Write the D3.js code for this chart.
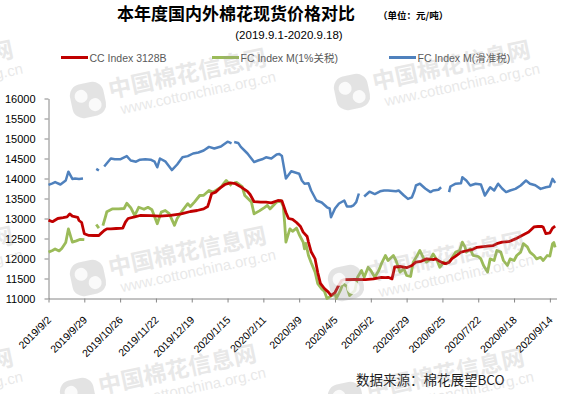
<!DOCTYPE html>
<html>
<head>
<meta charset="utf-8">
<script src="https://cdnjs.cloudflare.com/ajax/libs/d3/7.8.5/d3.min.js"></script>
<style>
  body { margin: 0; background: #fff; }
  .axis text { font-family: "Liberation Sans", Arial, sans-serif; fill: #000; }
  .axis path, .axis line { stroke: #868686; }
</style>
</head>
<body>
<div id="chart"></div>
<script>
// tick labels
var tickLabels = ["2019/9/2","2019/9/29","2019/10/26","2019/11/22","2019/12/19","2020/1/15","2020/2/11",
  "2020/3/9","2020/4/5","2020/5/2","2020/5/29","2020/6/25","2020/7/22","2020/8/18","2020/9/14"];
var yTicks = [11000,11500,12000,12500,13000,13500,14000,14500,15000,15500,16000];

var seriesNames = ["CC Index 3128B", "FC Index M(1%关税)", "FC Index M(滑准税)"];

// CC Index 3128B
var ccIndex = [["2019/9/2",12960],["2019/9/5",12920],["2019/9/9",13000],["2019/9/13",13020],["2019/9/16",13040],
  ["2019/9/18",13115],["2019/9/20",13060],["2019/9/24",13030],["2019/9/25",12950],["2019/9/27",12900],
  ["2019/9/29",12620],["2019/10/2",12580],["2019/10/6",12575],["2019/10/10",12575],["2019/10/11",12610],
  ["2019/10/14",12700],["2019/10/16",12740],["2019/10/19",12740],["2019/10/23",12750],["2019/10/28",12760],
  ["2019/10/30",12910],["2019/11/1",13000],["2019/11/6",13040],["2019/11/10",13075],["2019/11/18",13070],
  ["2019/11/25",13060],["2019/12/3",13080],["2019/12/11",13115],["2019/12/18",13175],["2019/12/23",13200],
  ["2019/12/28",13240],["2019/12/31",13300],["2020/1/1",13400],["2020/1/3",13620],["2020/1/6",13660],
  ["2020/1/10",13780],["2020/1/13",13850],["2020/1/17",13890],["2020/1/21",13870],["2020/1/25",13790],
  ["2020/1/30",13680],["2020/2/1",13600],["2020/2/4",13420],["2020/2/9",13410],["2020/2/13",13410],
  ["2020/2/17",13390],["2020/2/22",13450],["2020/2/25",13440],["2020/2/28",13150],["2020/3/1",13000],
  ["2020/3/4",12980],["2020/3/7",12900],["2020/3/10",12800],["2020/3/12",12660],["2020/3/15",12550],
  ["2020/3/16",12410],["2020/3/18",12170],["2020/3/21",11990],["2020/3/23",11650],["2020/3/25",11380],
  ["2020/3/28",11250],["2020/3/31",11160],["2020/4/2",11075],["2020/4/5",11150],["2020/4/7",11280],
  ["2020/4/10",11450],["2020/4/12",11470],["2020/4/20",11475],["2020/4/28",11470],["2020/5/4",11490],
  ["2020/5/10",11530],["2020/5/13",11520],["2020/5/15",11530],["2020/5/18",11490],["2020/5/20",11790],
  ["2020/5/24",11800],["2020/5/29",11770],["2020/6/2",11825],["2020/6/5",11910],["2020/6/9",11930],
  ["2020/6/13",11990],["2020/6/18",11970],["2020/6/20",11990],["2020/6/24",11910],["2020/6/27",11870],
  ["2020/6/30",11900],["2020/7/2",11990],["2020/7/5",12060],["2020/7/9",12160],["2020/7/14",12200],
  ["2020/7/18",12230],["2020/7/21",12280],["2020/7/29",12310],["2020/8/2",12320],["2020/8/5",12370],
  ["2020/8/9",12410],["2020/8/14",12420],["2020/8/19",12490],["2020/8/24",12575],["2020/8/29",12660],
  ["2020/9/2",12790],["2020/9/5",12800],["2020/9/8",12800],["2020/9/9",12780],["2020/9/11",12620],
  ["2020/9/14",12640],["2020/9/16",12760],["2020/9/18",12810]];

// FC Index M (1% tariff)
var fcIndex1 = [["2019/9/2",12160],["2019/9/5",12200],["2019/9/7",12240],["2019/9/10",12190],["2019/9/12",12250],
  ["2019/9/15",12400],["2019/9/17",12740],["2019/9/20",12410],["2019/9/23",12440],["2019/9/26",12480],
  ["2019/9/29",12470],["2019/10/2",null],["2019/10/8",12850],["2019/10/10",12760],["2019/10/11",null],
  ["2019/10/13",12820],["2019/10/15",13050],["2019/10/16",13170],["2019/10/20",13240],["2019/10/25",13240],
  ["2019/10/29",13250],["2019/10/31",13380],["2019/11/3",13270],["2019/11/6",13075],["2019/11/9",13280],
  ["2019/11/13",13230],["2019/11/16",13280],["2019/11/19",13220],["2019/11/23",12870],["2019/11/26",13160],
  ["2019/11/29",13200],["2019/12/2",13120],["2019/12/6",12830],["2019/12/8",13000],["2019/12/12",13200],
  ["2019/12/16",13370],["2019/12/18",13300],["2019/12/21",13410],["2019/12/25",13575],["2019/12/28",13580],
  ["2020/1/1",13700],["2020/1/4",13660],["2020/1/7",13720],["2020/1/10",13780],["2020/1/12",13870],
  ["2020/1/14",13950],["2020/1/16",13880],["2020/1/18",13820],["2020/1/19",null],["2020/1/20",13890],
  ["2020/1/22",13900],["2020/1/26",13800],["2020/1/28",13575],["2020/2/2",13410],["2020/2/4",13115],
  ["2020/2/8",13190],["2020/2/12",13280],["2020/2/14",13330],["2020/2/16",13240],["2020/2/21",13410],
  ["2020/2/24",13450],["2020/2/26",13300],["2020/2/27",12910],["2020/2/28",12410],["2020/3/2",12740],
  ["2020/3/4",12680],["2020/3/7",12760],["2020/3/9",12600],["2020/3/12",12410],["2020/3/13",12240],
  ["2020/3/14",12380],["2020/3/16",12075],["2020/3/18",11900],["2020/3/21",11660],["2020/3/23",11370],
  ["2020/3/26",11240],["2020/3/28",11180],["2020/3/30",11000],["2020/4/2",11060],["2020/4/5",11120],
  ["2020/4/6",11000],["2020/4/9",11200],["2020/4/11",11370],["2020/4/14",11300],["2020/4/16",11075],
  ["2020/4/20",11200],["2020/4/22",11530],["2020/4/25",11700],["2020/4/27",11530],["2020/4/30",11780],
  ["2020/5/2",11700],["2020/5/5",11530],["2020/5/8",11700],["2020/5/10",11870],["2020/5/13",12075],
  ["2020/5/15",11950],["2020/5/19",12075],["2020/5/21",11950],["2020/5/24",11660],["2020/5/27",11740],
  ["2020/5/29",11575],["2020/6/1",11550],["2020/6/3",11910],["2020/6/6",12075],["2020/6/8",12200],
  ["2020/6/11",11990],["2020/6/13",11910],["2020/6/16",11990],["2020/6/18",12115],["2020/6/21",11950],
  ["2020/6/23",11780],["2020/6/26",11910],["2020/6/28",11870],["2020/7/1",11950],["2020/7/5",12160],
  ["2020/7/8",12200],["2020/7/10",12410],["2020/7/12",12290],["2020/7/13",12160],["2020/7/16",12240],
  ["2020/7/18",12080],["2020/7/22",12050],["2020/7/24",11990],["2020/7/26",11825],["2020/7/29",11660],
  ["2020/7/31",11990],["2020/8/3",11950],["2020/8/5",12200],["2020/8/8",12160],["2020/8/10",11950],
  ["2020/8/13",11825],["2020/8/15",11990],["2020/8/18",11950],["2020/8/20",12075],["2020/8/23",12160],
  ["2020/8/25",12370],["2020/8/28",12290],["2020/8/30",12160],["2020/9/2",12075],["2020/9/4",11990],
  ["2020/9/7",12030],["2020/9/9",11950],["2020/9/12",12075],["2020/9/14",12060],["2020/9/16",12370],
  ["2020/9/17",12400],["2020/9/18",12280]];

// FC Index M (sliding tariff)
var fcIndexSlide = [["2019/9/2",13840],["2019/9/5",13880],["2019/9/7",13910],["2019/9/11",13850],["2019/9/15",13950],
  ["2019/9/17",14170],["2019/9/20",13990],["2019/9/22",14000],["2019/9/25",13990],["2019/9/28",14000],
  ["2019/10/2",null],["2019/10/8",14240],["2019/10/10",14200],["2019/10/12",null],["2019/10/14",14300],
  ["2019/10/16",14380],["2019/10/19",14500],["2019/10/22",14480],["2019/10/26",14480],["2019/10/31",14560],
  ["2019/11/3",14450],["2019/11/7",14420],["2019/11/10",14470],["2019/11/14",14480],["2019/11/18",14470],
  ["2019/11/21",14420],["2019/11/23",14280],["2019/11/25",14500],["2019/11/29",14430],["2019/12/4",14210],
  ["2019/12/8",14350],["2019/12/12",14530],["2019/12/16",14560],["2019/12/20",14625],["2019/12/24",14650],
  ["2019/12/28",14700],["2020/1/1",14790],["2020/1/5",14750],["2020/1/10",14800],["2020/1/15",14920],
  ["2020/1/16",14910],["2020/1/18",14880],["2020/1/19",null],["2020/1/20",14910],["2020/1/23",14890],
  ["2020/1/25",14790],["2020/1/30",14625],["2020/2/4",14410],["2020/2/7",14450],["2020/2/10",14480],
  ["2020/2/13",14530],["2020/2/17",14500],["2020/2/21",14600],["2020/2/23",14610],["2020/2/25",14560],
  ["2020/2/28",14000],["2020/3/3",14180],["2020/3/6",14150],["2020/3/9",14120],["2020/3/11",13950],
  ["2020/3/13",13870],["2020/3/16",13880],["2020/3/18",13700],["2020/3/22",13450],["2020/3/26",13400],
  ["2020/3/30",13280],["2020/4/1",13250],["2020/4/2",13030],["2020/4/5",13250],["2020/4/8",13375],
  ["2020/4/12",13450],["2020/4/14",13300],["2020/4/17",13300],["2020/4/19",13330],["2020/4/21",13410],
  ["2020/4/23",13625],["2020/4/25",null],["2020/4/27",13550],["2020/5/1",13670],["2020/5/5",13610],
  ["2020/5/9",13680],["2020/5/12",13700],["2020/5/15",13700],["2020/5/21",13680],["2020/5/23",13700],
  ["2020/5/27",13575],["2020/5/30",13490],["2020/6/2",13530],["2020/6/4",13700],["2020/6/5",13825],
  ["2020/6/8",13870],["2020/6/12",13750],["2020/6/16",13660],["2020/6/18",13700],["2020/6/22",13720],
  ["2020/6/24",13780],["2020/6/27",null],["2020/6/30",13660],["2020/7/1",13800],["2020/7/5",13870],
  ["2020/7/9",13880],["2020/7/10",14030],["2020/7/13",13950],["2020/7/16",13825],["2020/7/20",13870],
  ["2020/7/24",13850],["2020/7/27",13575],["2020/7/31",13780],["2020/8/3",13700],["2020/8/6",13870],
  ["2020/8/9",13750],["2020/8/12",13660],["2020/8/15",13700],["2020/8/19",13740],["2020/8/23",13825],
  ["2020/8/27",13950],["2020/8/30",13870],["2020/9/3",13830],["2020/9/7",13740],["2020/9/11",13780],
  ["2020/9/14",13800],["2020/9/16",13990],["2020/9/18",13890]];

var svgWidth = 563, svgHeight = 394;
var parseDate = d3.timeParse("%Y/%m/%d");

var svg = d3.select("#chart").append("svg")
  .attr("width", svgWidth)
  .attr("height", svgHeight)
  .style("display", "block");
svg.append("rect").attr("width", svgWidth).attr("height", svgHeight).attr("fill", "#fff");

var xScale = d3.scaleTime()
  .domain([parseDate("2019/9/2"), parseDate("2020/9/19")])
  .range([48.5, 556.5]);
var yScale = d3.scaleLinear()
  .domain([11000, 16000])
  .range([298.5, 98.5]);

// titles
svg.append("text")
  .attr("x", 117).attr("y", 19.5)
  .attr("font-family", "'Noto Sans CJK SC', sans-serif")
  .attr("font-weight", "bold").attr("font-size", "17px")
  .attr("fill", "#000")
  .text("本年度国内外棉花现货价格对比");
svg.append("text")
  .attr("x", 378).attr("y", 19)
  .attr("font-family", "'Noto Sans CJK SC', sans-serif")
  .attr("font-weight", "bold").attr("font-size", "9.5px")
  .attr("fill", "#000")
  .text("（单位：元/吨）");
svg.append("text")
  .attr("x", 289).attr("y", 38.5)
  .attr("text-anchor", "middle")
  .attr("font-family", "'Liberation Sans', Arial, sans-serif")
  .attr("font-size", "11.5px")
  .attr("fill", "#000")
  .text("(2019.9.1-2020.9.18)");

// axes
var leftAxis = d3.axisLeft(yScale).tickValues(yTicks).tickSize(4).tickSizeOuter(0).tickPadding(9)
  .tickFormat(d3.format("d"));
svg.append("g").attr("class", "axis")
  .attr("transform", "translate(48.5,0)")
  .call(leftAxis)
  .call(g => g.selectAll("text").attr("font-size", "11px"));

var bottomAxis = d3.axisBottom(xScale)
  .tickValues(tickLabels.map(parseDate))
  .tickSize(4).tickSizeOuter(0)
  .tickFormat((d, i) => tickLabels[i]);
svg.append("g").attr("class", "axis")
  .attr("transform", "translate(0,298.5)")
  .call(bottomAxis)
  .call(g => g.selectAll("text")
    .attr("font-size", "10.5px")
    .attr("x", 0).attr("y", 0).attr("dy", 0)
    .attr("text-anchor", "end")
    .attr("transform", "translate(3,22) rotate(-45)"));

// lines
var line = d3.line()
  .defined(d => d[1] != null)
  .x(d => xScale(parseDate(d[0])))
  .y(d => yScale(d[1]));

var plotSeries = [
  { data: fcIndex1, color: "#9BBB59", width: 2.8 },
  { data: ccIndex, color: "#C00000", width: 2.8 },
  { data: fcIndexSlide, color: "#4F81BD", width: 2.5 }
];
svg.append("g").selectAll("path")
  .data(plotSeries)
  .enter()
  .append("path")
  .attr("d", d => line(d.data))
  .attr("fill", "none")
  .attr("stroke", d => d.color)
  .attr("stroke-width", d => d.width)
  .attr("stroke-linejoin", "round");

// legend
var legendItems = [
  { name: seriesNames[0], color: "#C00000", x: 61 },
  { name: seriesNames[1], color: "#9BBB59", x: 212 },
  { name: seriesNames[2], color: "#4F81BD", x: 389 }
];
var legend = svg.append("g").selectAll("g").data(legendItems).enter().append("g")
  .attr("transform", d => `translate(${d.x},57.5)`);
legend.append("line")
  .attr("x1", 0).attr("x2", 27)
  .attr("stroke", d => d.color).attr("stroke-width", 3);
legend.append("text")
  .attr("x", 28.5).attr("y", 4)
  .attr("font-family", "'Liberation Sans', 'Noto Sans CJK SC', sans-serif")
  .attr("font-size", "10.5px")
  .attr("fill", "#595959")
  .text(d => d.name);

// source note
svg.append("text")
  .attr("x", 356).attr("y", 385)
  .attr("font-family", "'Noto Sans CJK SC', sans-serif")
  .attr("font-size", "13.5px")
  .attr("fill", "#1a1a1a")
  .text("数据来源：棉花展望BCO");

// watermarks
var marks = [[88, 100], [352, 92], [88, 278], [346, 283], [78, 396], [346, 400], [-165, 92], [-165, 278], [-165, 400]];
var wm = svg.append("g").attr("pointer-events", "none");
marks.forEach(function(m) {
  var g = wm.append("g").attr("transform", `translate(${m[0]},${m[1]}) rotate(-12)`);
  g.append("rect").attr("x", -17).attr("y", -17).attr("width", 34).attr("height", 34).attr("rx", 11)
    .attr("fill", "#9a9a9a").attr("opacity", 0.28);
  g.append("circle").attr("cx", -6).attr("cy", -5).attr("r", 6.5).attr("fill", "#fff").attr("opacity", 0.8);
  g.append("circle").attr("cx", 6).attr("cy", 6).attr("r", 6.5).attr("fill", "#fff").attr("opacity", 0.8);
  g.append("text").attr("x", 22).attr("y", 3)
    .attr("font-family", "'Noto Sans CJK SC', sans-serif").attr("font-weight", "bold")
    .attr("font-size", "23px").attr("fill", "#9a9a9a").attr("opacity", 0.22)
    .text("中国棉花信息网");
  g.append("text").attr("x", 30).attr("y", 21)
    .attr("font-family", "'Liberation Sans', Arial, sans-serif")
    .attr("font-size", "15px").attr("fill", "#9a9a9a").attr("opacity", 0.22)
    .text("www.cottonchina.org.cn");
});
</script>
</body>
</html>
